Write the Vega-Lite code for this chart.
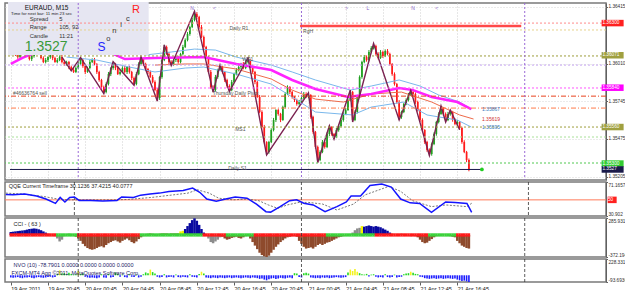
{
"$schema":"https://vega.github.io/schema/vega-lite/v6.json",
"padding":{"left":2,"top":1,"right":0,"bottom":0},
"background":"white",
"spacing":2,
"bounds":"flush",
"resolve":{"scale":{"x":"independent","y":"independent"}},
"config":{"view":{"stroke":"#7a7a7a","strokeWidth":1.5},"font":"Liberation Sans","axis":{"labelFont":"Liberation Sans","labelFontSize":4.7,"labelColor":"#303030","tickColor":"#606060","domainColor":"#606060"},"text":{"font":"Liberation Sans"}},
"datasets":{
"bars":[
{"i":0,"o":1.3608,"h":1.36106,"l":1.36072,"c":1.36094,"k":50,"cc":"blue","z":"zr","n":-30},
{"i":1,"o":1.36094,"h":1.36123,"l":1.36084,"c":1.36108,"k":55,"cc":"blue","z":"zr","n":-35},
{"i":2,"o":1.36108,"h":1.36114,"l":1.36066,"c":1.3608,"k":60,"cc":"blue","z":"zr","n":-30},
{"i":3,"o":1.3608,"h":1.36089,"l":1.36046,"c":1.36058,"k":65,"cc":"blue","z":"zr","n":-25},
{"i":4,"o":1.36058,"h":1.36102,"l":1.36043,"c":1.36094,"k":70,"cc":"blue","z":"zr","n":-35},
{"i":5,"o":1.36094,"h":1.36132,"l":1.36088,"c":1.36122,"k":75,"cc":"blue","z":"zr","n":-40},
{"i":6,"o":1.36122,"h":1.36136,"l":1.36092,"c":1.36101,"k":80,"cc":"blue","z":"zr","n":-30},
{"i":7,"o":1.36101,"h":1.36113,"l":1.36065,"c":1.36073,"k":90,"cc":"blue","z":"zr","n":-30},
{"i":8,"o":1.36073,"h":1.36088,"l":1.36034,"c":1.36044,"k":100,"cc":"blue","z":"zr","n":-25},
{"i":9,"o":1.36044,"h":1.36072,"l":1.3603,"c":1.36066,"k":105,"cc":"blue","z":"zr","n":-35},
{"i":10,"o":1.36066,"h":1.36103,"l":1.36054,"c":1.36094,"k":110,"cc":"blue","z":"zr","n":-40},
{"i":11,"o":1.36094,"h":1.36123,"l":1.36079,"c":1.36115,"k":105,"cc":"blue","z":"zr","n":-30},
{"i":12,"o":1.36115,"h":1.36125,"l":1.36074,"c":1.3608,"k":95,"cc":"blue","z":"zr","n":-25},
{"i":13,"o":1.3608,"h":1.36094,"l":1.36042,"c":1.36051,"k":80,"cc":"blue","z":"zr","n":-30},
{"i":14,"o":1.36051,"h":1.36063,"l":1.36015,"c":1.36023,"k":60,"cc":"blue","z":"zr","n":-35},
{"i":15,"o":1.36023,"h":1.36052,"l":1.36013,"c":1.36037,"k":40,"cc":"blue","z":"zr","n":-30},
{"i":16,"o":1.36037,"h":1.36064,"l":1.36023,"c":1.36058,"k":20,"cc":"brown","z":"zr","n":-25},
{"i":17,"o":1.36058,"h":1.36089,"l":1.36046,"c":1.3608,"k":10,"cc":"brown","z":"zr","n":-20},
{"i":18,"o":1.3608,"h":1.36088,"l":1.36036,"c":1.36051,"k":-10,"cc":"brown","z":"zr","n":-30},
{"i":19,"o":1.36051,"h":1.36061,"l":1.36017,"c":1.36023,"k":-20,"cc":"brown","z":"zr","n":-25},
{"i":20,"o":1.36023,"h":1.36051,"l":1.36014,"c":1.36037,"k":-60,"cc":"gray","z":"zg","n":20},
{"i":21,"o":1.36037,"h":1.3607,"l":1.36029,"c":1.36058,"k":-110,"cc":"gray","z":"zg","n":70},
{"i":22,"o":1.36058,"h":1.36073,"l":1.36013,"c":1.36023,"k":-80,"cc":"gray","z":"zg","n":25},
{"i":23,"o":1.36023,"h":1.36029,"l":1.35995,"c":1.36009,"k":-20,"cc":"brown","z":"zg","n":30},
{"i":24,"o":1.36009,"h":1.36032,"l":1.35997,"c":1.36023,"k":10,"cc":"brown","z":"zg","n":15},
{"i":25,"o":1.36023,"h":1.36031,"l":1.35972,"c":1.35987,"k":20,"cc":"brown","z":"zg","n":35},
{"i":26,"o":1.35987,"h":1.35997,"l":1.3596,"c":1.35966,"k":15,"cc":"brown","z":"zg","n":20},
{"i":27,"o":1.35966,"h":1.3598,"l":1.35945,"c":1.35952,"k":-10,"cc":"brown","z":"zg","n":10},
{"i":28,"o":1.35952,"h":1.35992,"l":1.35944,"c":1.3598,"k":-30,"cc":"brown","z":"zg","n":15},
{"i":29,"o":1.3598,"h":1.36024,"l":1.3597,"c":1.36009,"k":-60,"cc":"brown","z":"zr","n":60},
{"i":30,"o":1.36009,"h":1.36055,"l":1.36003,"c":1.36037,"k":-100,"cc":"brown","z":"zr","n":20},
{"i":31,"o":1.36037,"h":1.36046,"l":1.35982,"c":1.35994,"k":-150,"cc":"brown","z":"zr","n":25},
{"i":32,"o":1.35994,"h":1.36002,"l":1.35937,"c":1.35952,"k":-190,"cc":"brown","z":"zr","n":-20},
{"i":33,"o":1.35952,"h":1.3599,"l":1.35946,"c":1.3598,"k":-220,"cc":"brown","z":"zr","n":-30},
{"i":34,"o":1.3598,"h":1.36037,"l":1.35971,"c":1.36023,"k":-240,"cc":"brown","z":"zr","n":-35},
{"i":35,"o":1.36023,"h":1.36049,"l":1.36015,"c":1.36037,"k":-250,"cc":"brown","z":"zr","n":-30},
{"i":36,"o":1.36037,"h":1.36052,"l":1.35999,"c":1.36009,"k":-240,"cc":"brown","z":"zr","n":-35},
{"i":37,"o":1.36009,"h":1.36015,"l":1.35938,"c":1.35952,"k":-220,"cc":"brown","z":"zr","n":-40},
{"i":38,"o":1.35952,"h":1.35961,"l":1.35883,"c":1.35895,"k":-200,"cc":"brown","z":"zr","n":-30},
{"i":39,"o":1.35895,"h":1.35903,"l":1.3583,"c":1.35845,"k":-190,"cc":"brown","z":"zr","n":15},
{"i":40,"o":1.35845,"h":1.35855,"l":1.35798,"c":1.35809,"k":-210,"cc":"brown","z":"zr","n":-30},
{"i":41,"o":1.35809,"h":1.35878,"l":1.358,"c":1.35866,"k":-170,"cc":"brown","z":"zr","n":-35},
{"i":42,"o":1.35866,"h":1.35952,"l":1.35856,"c":1.35937,"k":-140,"cc":"brown","z":"zr","n":20},
{"i":43,"o":1.35937,"h":1.35986,"l":1.35923,"c":1.3598,"k":-120,"cc":"brown","z":"zr","n":-30},
{"i":44,"o":1.3598,"h":1.36025,"l":1.35968,"c":1.36009,"k":-100,"cc":"brown","z":"zr","n":-25},
{"i":45,"o":1.36009,"h":1.36017,"l":1.35965,"c":1.3598,"k":-90,"cc":"brown","z":"zr","n":40},
{"i":46,"o":1.3598,"h":1.3599,"l":1.35931,"c":1.35937,"k":-110,"cc":"brown","z":"zr","n":20},
{"i":47,"o":1.35937,"h":1.35966,"l":1.35928,"c":1.35952,"k":-130,"cc":"brown","z":"zr","n":-20},
{"i":48,"o":1.35952,"h":1.35992,"l":1.35944,"c":1.3598,"k":-100,"cc":"brown","z":"zr","n":10},
{"i":49,"o":1.3598,"h":1.35995,"l":1.35942,"c":1.35952,"k":-80,"cc":"brown","z":"zr","n":-25},
{"i":50,"o":1.35952,"h":1.35993,"l":1.35938,"c":1.35987,"k":-60,"cc":"brown","z":"zr","n":-30},
{"i":51,"o":1.35987,"h":1.35996,"l":1.3594,"c":1.35952,"k":-90,"cc":"brown","z":"zr","n":15},
{"i":52,"o":1.35952,"h":1.3596,"l":1.35894,"c":1.35909,"k":-120,"cc":"brown","z":"zr","n":-20},
{"i":53,"o":1.35909,"h":1.35919,"l":1.35858,"c":1.35866,"k":-140,"cc":"brown","z":"zr","n":-25},
{"i":54,"o":1.35866,"h":1.35951,"l":1.35857,"c":1.35937,"k":-110,"cc":"brown","z":"zr","n":10},
{"i":55,"o":1.35937,"h":1.36021,"l":1.35929,"c":1.36009,"k":-70,"cc":"brown","z":"zr","n":-30},
{"i":56,"o":1.36009,"h":1.36059,"l":1.35999,"c":1.36044,"k":-40,"cc":"brown","z":"zg","n":-20},
{"i":57,"o":1.36044,"h":1.3605,"l":1.35995,"c":1.36009,"k":-20,"cc":"brown","z":"zg","n":15},
{"i":58,"o":1.36009,"h":1.36018,"l":1.35961,"c":1.35973,"k":10,"cc":"brown","z":"zg","n":40},
{"i":59,"o":1.35973,"h":1.35981,"l":1.35937,"c":1.35952,"k":20,"cc":"brown","z":"zg","n":30},
{"i":60,"o":1.35952,"h":1.35962,"l":1.3591,"c":1.35916,"k":25,"cc":"brown","z":"zg","n":80},
{"i":61,"o":1.35916,"h":1.3593,"l":1.35871,"c":1.3588,"k":20,"cc":"brown","z":"zg","n":45},
{"i":62,"o":1.3588,"h":1.35892,"l":1.35815,"c":1.35823,"k":10,"cc":"brown","z":"zg","n":25},
{"i":63,"o":1.35823,"h":1.35838,"l":1.35745,"c":1.35767,"k":-10,"cc":"brown","z":"zg","n":-20},
{"i":64,"o":1.35767,"h":1.35922,"l":1.35753,"c":1.35916,"k":20,"cc":"brown","z":"zg","n":-30},
{"i":65,"o":1.35916,"h":1.36046,"l":1.35904,"c":1.36037,"k":25,"cc":"brown","z":"zg","n":-25},
{"i":66,"o":1.36037,"h":1.36145,"l":1.36029,"c":1.3613,"k":25,"cc":"brown","z":"zg","n":15},
{"i":67,"o":1.3613,"h":1.3614,"l":1.36074,"c":1.3608,"k":25,"cc":"brown","z":"zg","n":-30},
{"i":68,"o":1.3608,"h":1.36095,"l":1.36009,"c":1.36023,"k":20,"cc":"brown","z":"zg","n":-25},
{"i":69,"o":1.36023,"h":1.36035,"l":1.35997,"c":1.36009,"k":25,"cc":"brown","z":"zg","n":-20},
{"i":70,"o":1.36009,"h":1.36045,"l":1.35994,"c":1.36037,"k":25,"cc":"brown","z":"zg","n":-30},
{"i":71,"o":1.36037,"h":1.36064,"l":1.36023,"c":1.36058,"k":25,"cc":"brown","z":"zg","n":10},
{"i":72,"o":1.36058,"h":1.36067,"l":1.36011,"c":1.36023,"k":25,"cc":"brown","z":"zg","n":-25},
{"i":73,"o":1.36023,"h":1.36088,"l":1.36013,"c":1.3608,"k":60,"cc":"yellow","z":"zg","n":-30},
{"i":74,"o":1.3608,"h":1.36145,"l":1.3607,"c":1.3613,"k":70,"cc":"yellow","z":"zg","n":-20},
{"i":75,"o":1.3613,"h":1.36191,"l":1.36122,"c":1.36179,"k":100,"cc":"blue","z":"zg","n":-25},
{"i":76,"o":1.36179,"h":1.36236,"l":1.3617,"c":1.36222,"k":150,"cc":"blue","z":"zg","n":-30},
{"i":77,"o":1.36222,"h":1.36281,"l":1.3621,"c":1.36272,"k":200,"cc":"blue","z":"zg","n":15},
{"i":78,"o":1.36272,"h":1.36337,"l":1.36264,"c":1.36322,"k":250,"cc":"blue","z":"zg","n":-20},
{"i":79,"o":1.36322,"h":1.36385,"l":1.36312,"c":1.36365,"k":280,"cc":"blue","z":"zg","n":-25},
{"i":80,"o":1.36365,"h":1.36378,"l":1.36329,"c":1.36343,"k":240,"cc":"blue","z":"zg","n":-30},
{"i":81,"o":1.36343,"h":1.36352,"l":1.3626,"c":1.36272,"k":170,"cc":"blue","z":"zg","n":20},
{"i":82,"o":1.36272,"h":1.36287,"l":1.36193,"c":1.36201,"k":100,"cc":"blue","z":"zg","n":50},
{"i":83,"o":1.36201,"h":1.36211,"l":1.36118,"c":1.3613,"k":40,"cc":"blue","z":"zr","n":25},
{"i":84,"o":1.3613,"h":1.36138,"l":1.36043,"c":1.36058,"k":0,"cc":"brown","z":"zr","n":-30},
{"i":85,"o":1.36058,"h":1.36064,"l":1.35942,"c":1.35952,"k":-60,"cc":"gray","z":"zr","n":-35},
{"i":86,"o":1.35952,"h":1.35966,"l":1.35833,"c":1.35845,"k":-120,"cc":"gray","z":"zr","n":-40},
{"i":87,"o":1.35845,"h":1.35857,"l":1.35808,"c":1.35823,"k":-140,"cc":"gray","z":"zr","n":-30},
{"i":88,"o":1.35823,"h":1.35931,"l":1.35813,"c":1.35916,"k":-110,"cc":"gray","z":"zr","n":-35},
{"i":89,"o":1.35916,"h":1.35975,"l":1.35904,"c":1.35966,"k":-80,"cc":"gray","z":"zr","n":-40},
{"i":90,"o":1.35966,"h":1.36002,"l":1.35958,"c":1.35987,"k":-40,"cc":"gray","z":"zr","n":-30},
{"i":91,"o":1.35987,"h":1.35996,"l":1.3594,"c":1.35952,"k":-30,"cc":"brown","z":"zr","n":-35},
{"i":92,"o":1.35952,"h":1.3596,"l":1.35881,"c":1.35895,"k":-60,"cc":"brown","z":"zr","n":-40},
{"i":93,"o":1.35895,"h":1.35904,"l":1.3584,"c":1.35852,"k":-80,"cc":"brown","z":"zg","n":-35},
{"i":94,"o":1.35852,"h":1.35864,"l":1.35812,"c":1.35823,"k":-70,"cc":"brown","z":"zg","n":-30},
{"i":95,"o":1.35823,"h":1.35895,"l":1.35815,"c":1.3588,"k":-50,"cc":"brown","z":"zg","n":-40},
{"i":96,"o":1.3588,"h":1.35946,"l":1.35872,"c":1.35937,"k":-40,"cc":"brown","z":"zg","n":-35},
{"i":97,"o":1.35937,"h":1.3598,"l":1.35928,"c":1.35966,"k":-30,"cc":"brown","z":"zg","n":-30},
{"i":98,"o":1.35966,"h":1.35999,"l":1.35956,"c":1.35987,"k":-50,"cc":"brown","z":"zg","n":-35},
{"i":99,"o":1.35987,"h":1.36017,"l":1.35972,"c":1.36009,"k":-60,"cc":"brown","z":"zg","n":-40},
{"i":100,"o":1.36009,"h":1.36023,"l":1.35971,"c":1.3598,"k":-40,"cc":"brown","z":"zg","n":-35},
{"i":101,"o":1.3598,"h":1.36035,"l":1.35972,"c":1.36023,"k":-20,"cc":"brown","z":"zg","n":-30},
{"i":102,"o":1.36023,"h":1.36052,"l":1.36013,"c":1.36037,"k":-10,"cc":"brown","z":"zg","n":-35},
{"i":103,"o":1.36037,"h":1.36043,"l":1.3598,"c":1.35994,"k":-60,"cc":"brown","z":"zg","n":-40},
{"i":104,"o":1.35994,"h":1.36003,"l":1.3594,"c":1.35952,"k":-120,"cc":"brown","z":"zg","n":-30},
{"i":105,"o":1.35952,"h":1.3596,"l":1.35865,"c":1.3588,"k":-180,"cc":"brown","z":"zr","n":-35},
{"i":106,"o":1.3588,"h":1.3589,"l":1.35768,"c":1.35774,"k":-240,"cc":"brown","z":"zr","n":-40},
{"i":107,"o":1.35774,"h":1.35788,"l":1.35658,"c":1.35667,"k":-300,"cc":"brown","z":"zr","n":-50},
{"i":108,"o":1.35667,"h":1.35679,"l":1.35552,"c":1.3556,"k":-340,"cc":"brown","z":"zr","n":-45},
{"i":109,"o":1.3556,"h":1.35575,"l":1.35443,"c":1.35453,"k":-360,"cc":"brown","z":"zr","n":-60},
{"i":110,"o":1.35453,"h":1.35459,"l":1.35361,"c":1.35382,"k":-372,"cc":"brown","z":"zr","n":-70},
{"i":111,"o":1.35382,"h":1.35462,"l":1.3537,"c":1.35453,"k":-350,"cc":"brown","z":"zr","n":-55},
{"i":112,"o":1.35453,"h":1.35551,"l":1.35445,"c":1.35539,"k":-300,"cc":"brown","z":"zr","n":-45},
{"i":113,"o":1.35539,"h":1.35625,"l":1.35529,"c":1.3561,"k":-250,"cc":"brown","z":"zr","n":-40},
{"i":114,"o":1.3561,"h":1.35687,"l":1.35596,"c":1.35681,"k":-200,"cc":"brown","z":"zr","n":-50},
{"i":115,"o":1.35681,"h":1.3569,"l":1.35641,"c":1.35653,"k":-160,"cc":"brown","z":"zr","n":-45},
{"i":116,"o":1.35653,"h":1.35661,"l":1.35595,"c":1.3561,"k":-120,"cc":"brown","z":"zr","n":-35},
{"i":117,"o":1.3561,"h":1.35712,"l":1.35604,"c":1.35702,"k":-90,"cc":"brown","z":"zr","n":-40},
{"i":118,"o":1.35702,"h":1.35809,"l":1.35693,"c":1.35795,"k":-60,"cc":"brown","z":"zr","n":-45},
{"i":119,"o":1.35795,"h":1.35857,"l":1.35787,"c":1.35845,"k":-40,"cc":"brown","z":"zr","n":-35},
{"i":120,"o":1.35845,"h":1.35851,"l":1.35794,"c":1.35809,"k":-30,"cc":"brown","z":"zr","n":-30},
{"i":121,"o":1.35809,"h":1.35818,"l":1.35762,"c":1.35774,"k":-20,"cc":"brown","z":"zr","n":-40},
{"i":122,"o":1.35774,"h":1.3578,"l":1.35738,"c":1.35752,"k":-10,"cc":"brown","z":"zr","n":30},
{"i":123,"o":1.35752,"h":1.35762,"l":1.35712,"c":1.35724,"k":-30,"cc":"brown","z":"zr","n":25},
{"i":124,"o":1.35724,"h":1.35753,"l":1.35714,"c":1.35738,"k":-100,"cc":"brown","z":"zr","n":-25},
{"i":125,"o":1.35738,"h":1.35779,"l":1.35732,"c":1.35767,"k":-150,"cc":"brown","z":"zr","n":-30},
{"i":126,"o":1.35767,"h":1.35809,"l":1.35758,"c":1.35795,"k":-200,"cc":"brown","z":"zr","n":30},
{"i":127,"o":1.35795,"h":1.35807,"l":1.35766,"c":1.35774,"k":-230,"cc":"brown","z":"zr","n":35},
{"i":128,"o":1.35774,"h":1.35803,"l":1.35764,"c":1.35788,"k":-220,"cc":"brown","z":"zr","n":25},
{"i":129,"o":1.35788,"h":1.35794,"l":1.35619,"c":1.35631,"k":-210,"cc":"brown","z":"zr","n":-30},
{"i":130,"o":1.35631,"h":1.3564,"l":1.35512,"c":1.35524,"k":-230,"cc":"brown","z":"zr","n":-35},
{"i":131,"o":1.35524,"h":1.35532,"l":1.35405,"c":1.35418,"k":-200,"cc":"brown","z":"zr","n":-40},
{"i":132,"o":1.35418,"h":1.35428,"l":1.35308,"c":1.35325,"k":-170,"cc":"brown","z":"zr","n":-35},
{"i":133,"o":1.35325,"h":1.35394,"l":1.35317,"c":1.35382,"k":-150,"cc":"brown","z":"zr","n":-40},
{"i":134,"o":1.35382,"h":1.35468,"l":1.35374,"c":1.35453,"k":-170,"cc":"brown","z":"zr","n":-30},
{"i":135,"o":1.35453,"h":1.35463,"l":1.35406,"c":1.35418,"k":-150,"cc":"brown","z":"zr","n":-35},
{"i":136,"o":1.35418,"h":1.35522,"l":1.3541,"c":1.3551,"k":-130,"cc":"brown","z":"zg","n":-30},
{"i":137,"o":1.3551,"h":1.35569,"l":1.35496,"c":1.3556,"k":-120,"cc":"brown","z":"zg","n":-40},
{"i":138,"o":1.3556,"h":1.35566,"l":1.35498,"c":1.3551,"k":-100,"cc":"brown","z":"zg","n":-35},
{"i":139,"o":1.3551,"h":1.35518,"l":1.35475,"c":1.35489,"k":-80,"cc":"brown","z":"zg","n":-30},
{"i":140,"o":1.35489,"h":1.35553,"l":1.35481,"c":1.35539,"k":-60,"cc":"brown","z":"zg","n":-25},
{"i":141,"o":1.35539,"h":1.35579,"l":1.35527,"c":1.35567,"k":-40,"cc":"brown","z":"zg","n":-30},
{"i":142,"o":1.35567,"h":1.35624,"l":1.35559,"c":1.3561,"k":-30,"cc":"brown","z":"zg","n":-35},
{"i":143,"o":1.3561,"h":1.35665,"l":1.35598,"c":1.35653,"k":-20,"cc":"brown","z":"zg","n":-30},
{"i":144,"o":1.35653,"h":1.35696,"l":1.35645,"c":1.35681,"k":-10,"cc":"brown","z":"zg","n":-25},
{"i":145,"o":1.35681,"h":1.35762,"l":1.35675,"c":1.35752,"k":0,"cc":"brown","z":"zg","n":40},
{"i":146,"o":1.35752,"h":1.35823,"l":1.35743,"c":1.35809,"k":10,"cc":"brown","z":"zg","n":80},
{"i":147,"o":1.35809,"h":1.35817,"l":1.35596,"c":1.3561,"k":40,"cc":"gray","z":"zg","n":60},
{"i":148,"o":1.3561,"h":1.35679,"l":1.35602,"c":1.35667,"k":80,"cc":"gray","z":"zg","n":90},
{"i":149,"o":1.35667,"h":1.35789,"l":1.35657,"c":1.35774,"k":110,"cc":"gray","z":"zg","n":50},
{"i":150,"o":1.35774,"h":1.35928,"l":1.35766,"c":1.35916,"k":120,"cc":"gray","z":"zg","n":30},
{"i":151,"o":1.35916,"h":1.36032,"l":1.35904,"c":1.36023,"k":150,"cc":"yellow","z":"zg","n":15},
{"i":152,"o":1.36023,"h":1.36073,"l":1.36014,"c":1.36058,"k":140,"cc":"blue","z":"zg","n":10},
{"i":153,"o":1.36058,"h":1.3607,"l":1.36025,"c":1.36037,"k":150,"cc":"blue","z":"zg","n":20},
{"i":154,"o":1.36037,"h":1.36108,"l":1.36029,"c":1.36094,"k":160,"cc":"blue","z":"zg","n":-15},
{"i":155,"o":1.36094,"h":1.36136,"l":1.36085,"c":1.36122,"k":150,"cc":"blue","z":"zg","n":10},
{"i":156,"o":1.36122,"h":1.36155,"l":1.36112,"c":1.36137,"k":140,"cc":"blue","z":"zg","n":15},
{"i":157,"o":1.36137,"h":1.36146,"l":1.36068,"c":1.3608,"k":150,"cc":"blue","z":"zr","n":-20},
{"i":158,"o":1.3608,"h":1.36092,"l":1.36041,"c":1.36051,"k":140,"cc":"blue","z":"zr","n":-30},
{"i":159,"o":1.36051,"h":1.36108,"l":1.36045,"c":1.36094,"k":130,"cc":"blue","z":"zr","n":-25},
{"i":160,"o":1.36094,"h":1.36104,"l":1.36052,"c":1.36066,"k":110,"cc":"blue","z":"zr","n":-30},
{"i":161,"o":1.36066,"h":1.36113,"l":1.36058,"c":1.36101,"k":90,"cc":"blue","z":"zr","n":15},
{"i":162,"o":1.36101,"h":1.36115,"l":1.3607,"c":1.3608,"k":70,"cc":"blue","z":"zr","n":-25},
{"i":163,"o":1.3608,"h":1.36089,"l":1.35997,"c":1.36009,"k":40,"cc":"blue","z":"zr","n":-30},
{"i":164,"o":1.36009,"h":1.36015,"l":1.35925,"c":1.35937,"k":20,"cc":"brown","z":"zr","n":-25},
{"i":165,"o":1.35937,"h":1.35949,"l":1.35855,"c":1.35866,"k":0,"cc":"brown","z":"zr","n":10},
{"i":166,"o":1.35866,"h":1.35874,"l":1.35726,"c":1.35738,"k":-10,"cc":"brown","z":"zr","n":-30},
{"i":167,"o":1.35738,"h":1.35752,"l":1.3561,"c":1.35631,"k":10,"cc":"brown","z":"zr","n":-25},
{"i":168,"o":1.35631,"h":1.35677,"l":1.35619,"c":1.35667,"k":20,"cc":"brown","z":"zr","n":-20},
{"i":169,"o":1.35667,"h":1.35733,"l":1.35659,"c":1.35724,"k":10,"cc":"brown","z":"zr","n":15},
{"i":170,"o":1.35724,"h":1.35764,"l":1.35716,"c":1.35752,"k":0,"cc":"brown","z":"zr","n":25},
{"i":171,"o":1.35752,"h":1.35803,"l":1.35742,"c":1.35788,"k":-10,"cc":"brown","z":"zr","n":30},
{"i":172,"o":1.35788,"h":1.35823,"l":1.3578,"c":1.35809,"k":-20,"cc":"brown","z":"zr","n":50},
{"i":173,"o":1.35809,"h":1.35818,"l":1.35783,"c":1.35795,"k":-10,"cc":"brown","z":"zr","n":35},
{"i":174,"o":1.35795,"h":1.35806,"l":1.35725,"c":1.35738,"k":-20,"cc":"brown","z":"zr","n":20},
{"i":175,"o":1.35738,"h":1.35748,"l":1.3567,"c":1.35681,"k":-40,"cc":"brown","z":"zr","n":15},
{"i":176,"o":1.35681,"h":1.3569,"l":1.35598,"c":1.3561,"k":-80,"cc":"brown","z":"zr","n":-20},
{"i":177,"o":1.3561,"h":1.35622,"l":1.3553,"c":1.35539,"k":-120,"cc":"brown","z":"zr","n":-25},
{"i":178,"o":1.35539,"h":1.35545,"l":1.3544,"c":1.35453,"k":-140,"cc":"brown","z":"zr","n":-40},
{"i":179,"o":1.35453,"h":1.35462,"l":1.35384,"c":1.35396,"k":-130,"cc":"brown","z":"zr","n":-45},
{"i":180,"o":1.35396,"h":1.35408,"l":1.35358,"c":1.35368,"k":-100,"cc":"brown","z":"zg","n":-50},
{"i":181,"o":1.35368,"h":1.35449,"l":1.35356,"c":1.35439,"k":-70,"cc":"brown","z":"zg","n":-45},
{"i":182,"o":1.35439,"h":1.35522,"l":1.35431,"c":1.3551,"k":-40,"cc":"brown","z":"zg","n":-40},
{"i":183,"o":1.3551,"h":1.35604,"l":1.35498,"c":1.35596,"k":-20,"cc":"brown","z":"zg","n":-50},
{"i":184,"o":1.35596,"h":1.35665,"l":1.35586,"c":1.35653,"k":-10,"cc":"brown","z":"zg","n":-45},
{"i":185,"o":1.35653,"h":1.3571,"l":1.35647,"c":1.35695,"k":0,"cc":"brown","z":"zg","n":-40},
{"i":186,"o":1.35695,"h":1.35703,"l":1.35641,"c":1.35653,"k":10,"cc":"brown","z":"zg","n":-50},
{"i":187,"o":1.35653,"h":1.35664,"l":1.35596,"c":1.3561,"k":0,"cc":"brown","z":"zg","n":-45},
{"i":188,"o":1.3561,"h":1.35668,"l":1.35602,"c":1.35653,"k":-10,"cc":"brown","z":"zg","n":-40},
{"i":189,"o":1.35653,"h":1.35681,"l":1.35641,"c":1.35667,"k":-20,"cc":"brown","z":"zg","n":-45},
{"i":190,"o":1.35667,"h":1.35675,"l":1.35598,"c":1.3561,"k":-30,"cc":"brown","z":"zg","n":-50},
{"i":191,"o":1.3561,"h":1.35622,"l":1.35573,"c":1.35581,"k":-40,"cc":"brown","z":"zg","n":-45},
{"i":192,"o":1.35581,"h":1.35611,"l":1.3557,"c":1.35596,"k":-100,"cc":"brown","z":"zr","n":-60},
{"i":193,"o":1.35596,"h":1.35602,"l":1.35541,"c":1.35553,"k":-140,"cc":"brown","z":"zr","n":-70},
{"i":194,"o":1.35553,"h":1.35562,"l":1.35441,"c":1.35453,"k":-180,"cc":"brown","z":"zr","n":-80},
{"i":195,"o":1.35453,"h":1.35466,"l":1.35374,"c":1.35382,"k":-200,"cc":"brown","z":"zr","n":-75},
{"i":196,"o":1.35382,"h":1.3539,"l":1.3531,"c":1.35325,"k":-220,"cc":"brown","z":"zr","n":-85},
{"i":197,"o":1.35325,"h":1.35336,"l":1.35245,"c":1.35262,"k":-230,"cc":"brown","z":"zr","n":-93}
],
"zz":[{"i":22,"p":1.36058},{"i":26,"p":1.3596},{"i":30,"p":1.36055},{"i":40,"p":1.35798},{"i":44,"p":1.36025},{"i":53,"p":1.35858},{"i":56,"p":1.36059},{"i":63,"p":1.35745},{"i":66,"p":1.36145},{"i":69,"p":1.35997},{"i":79,"p":1.36385},{"i":87,"p":1.35808},{"i":90,"p":1.36002},{"i":94,"p":1.35812},{"i":102,"p":1.36052},{"i":110,"p":1.35361},{"i":128,"p":1.35803},{"i":132,"p":1.35308},{"i":137,"p":1.35569},{"i":139,"p":1.35475},{"i":146,"p":1.35823},{"i":147,"p":1.35596},{"i":156,"p":1.36155},{"i":167,"p":1.3561},{"i":172,"p":1.35823},{"i":180,"p":1.35358},{"i":185,"p":1.3571},{"i":187,"p":1.35596},{"i":189,"p":1.35681},{"i":193,"p":1.35541}],
"mag":[{"i":0,"p":1.36009},{"i":5,"p":1.36052},{"i":9,"p":1.3608},{"i":16,"p":1.36112},{"i":30,"p":1.3613},{"i":40,"p":1.36112},{"i":45,"p":1.36073},{"i":49,"p":1.36044},{"i":62,"p":1.36051},{"i":83,"p":1.36058},{"i":97,"p":1.36009},{"i":112,"p":1.35966},{"i":121,"p":1.35895},{"i":131,"p":1.35831},{"i":145,"p":1.35774},{"i":155,"p":1.35795},{"i":167,"p":1.35838},{"i":173,"p":1.35823},{"i":181,"p":1.35774},{"i":192,"p":1.35738},{"i":198,"p":1.35688}],
"ubl":[{"i":58,"p":1.36073},{"i":69,"p":1.36094},{"i":79,"p":1.36115},{"i":88,"p":1.36108},{"i":97,"p":1.36058},{"i":112,"p":1.36001},{"i":121,"p":1.35952},{"i":131,"p":1.35895},{"i":146,"p":1.35823},{"i":155,"p":1.35852},{"i":167,"p":1.35895},{"i":176,"p":1.35852},{"i":184,"p":1.35788},{"i":193,"p":1.35738},{"i":198,"p":1.35688}],
"lbl":[{"i":24,"p":1.36058},{"i":37,"p":1.36037},{"i":51,"p":1.35987},{"i":62,"p":1.35952},{"i":75,"p":1.3598},{"i":83,"p":1.35987},{"i":97,"p":1.35937},{"i":112,"p":1.35866},{"i":121,"p":1.35774},{"i":131,"p":1.35667},{"i":147,"p":1.35646},{"i":155,"p":1.35702},{"i":169,"p":1.35738},{"i":179,"p":1.35646},{"i":192,"p":1.3561},{"i":198,"p":1.3556}],
"red":[{"i":62,"p":1.36001},{"i":75,"p":1.36009},{"i":83,"p":1.36009},{"i":97,"p":1.35973},{"i":112,"p":1.35902},{"i":121,"p":1.35823},{"i":131,"p":1.35759},{"i":143,"p":1.35738},{"i":155,"p":1.35795},{"i":168,"p":1.35809},{"i":181,"p":1.35738},{"i":193,"p":1.35646},{"i":199,"p":1.35617}],
"levels":[{"name":"R1","p":1.363},{"name":"DR1","p":1.36251},{"name":"W1","p":1.36066},{"name":"W2","p":1.36001},{"name":"Sell","p":1.35838},{"name":"Pivot","p":1.3578},{"name":"W3","p":1.35695},{"name":"W4","p":1.3556},{"name":"MS1","p":1.35489},{"name":"S1","p":1.35304}],
"days":[{"i":29},{"i":125},{"i":221}],
"notes":[{"i":94,"p":1.36265,"t":"Daily R1"},{"i":125.7,"p":1.36244,"t":"RgH"},{"i":86.8,"p":1.35802,"t":"Thursday  Daily Pivot"},{"i":96.5,"p":1.35546,"t":"MS1"},{"i":93.5,"p":1.35268,"t":"Daily S1"},{"i":0.9,"p":1.35802,"t":"#46636764 sell"},{"i":99.5,"p":1.36044,"t":"WR1"}],
"marks":[{"i":77.9,"t":"N"},{"i":87.6,"t":"<"},{"i":144.3,"t":">"},{"i":153.6,"t":"L"},{"i":173,"t":"N"},{"i":183.2,"t":"<"}],
"malab":[{"i":202.6,"p":1.35688,"t":"1.35867","k":"b"},{"i":202.6,"p":1.35617,"t":"1.35619","k":"r"},{"i":202.6,"p":1.3556,"t":"1.35595","k":"b"}],
"info":[{"i":6,"p":1.36407,"t":"EURAUD, M15","k":"title"},{"i":0.1,"p":1.36365,"t":"Time for next bar: 11 min 23 sec","k":"tiny"},{"i":8.1,"p":1.36329,"t":"Spread","k":"info"},{"i":20.8,"p":1.36329,"t":"5","k":"info"},{"i":8.1,"p":1.36272,"t":"Range","k":"info"},{"i":20.8,"p":1.36272,"t":"105, 92","k":"info"},{"i":8.1,"p":1.36208,"t":"Candle","k":"info"},{"i":20.8,"p":1.36208,"t":"11:21","k":"info"},{"i":6,"p":1.3613,"t":"1.3527","k":"big"},{"i":39,"p":1.3613,"t":"S","k":"S"},{"i":41.9,"p":1.36187,"t":"o","k":"let"},{"i":44.5,"p":1.36244,"t":"n","k":"let"},{"i":47.4,"p":1.36286,"t":"i","k":"let"},{"i":50.4,"p":1.36329,"t":"c","k":"let"},{"i":53.8,"p":1.36393,"t":"R","k":"R"}],
"axbox":[{"p":1.363,"t":"1.36300","k":"red"},{"p":1.36071,"t":"1.36071","k":"olive"},{"p":1.3584,"t":"1.35840","k":"mag"},{"p":1.3556,"t":"1.35560","k":"olive"},{"p":1.353,"t":"1.35300","k":"green"},{"p":1.35258,"t":"1.3527","k":"navy"}],
"qqe":[{"i":0,"v":56.4},{"i":3,"v":56},{"i":8,"v":57},{"i":13,"v":54.5},{"i":17,"v":51},{"i":21,"v":45.8},{"i":23,"v":53},{"i":25,"v":47.5},{"i":27,"v":52.8},{"i":29,"v":53.5},{"i":31,"v":49.3},{"i":36,"v":49.3},{"i":41,"v":48.6},{"i":47,"v":49.3},{"i":49,"v":53.5},{"i":54,"v":52.8},{"i":57,"v":55.6},{"i":61,"v":57},{"i":65,"v":58},{"i":69,"v":59.9},{"i":75,"v":61},{"i":79,"v":64},{"i":82,"v":59},{"i":85,"v":51},{"i":89,"v":48.5},{"i":93,"v":51},{"i":97,"v":53.5},{"i":102,"v":52},{"i":106,"v":45},{"i":110,"v":36},{"i":112,"v":35.5},{"i":116,"v":42},{"i":120,"v":49},{"i":123,"v":50},{"i":126,"v":46},{"i":130,"v":44},{"i":135,"v":36},{"i":140,"v":42},{"i":144,"v":47.5},{"i":146,"v":54.6},{"i":150,"v":54.6},{"i":154,"v":67},{"i":159,"v":68.7},{"i":163,"v":65.2},{"i":167,"v":51},{"i":171,"v":46.5},{"i":175,"v":45.8},{"i":180,"v":35.2},{"i":186,"v":47.5},{"i":190,"v":46.8},{"i":195,"v":45.8},{"i":197,"v":35.2}],
"qqes":[{"i":0,"v":58},{"i":7,"v":57},{"i":16,"v":54},{"i":22,"v":51},{"i":26,"v":50},{"i":33,"v":50},{"i":45,"v":50},{"i":52,"v":50.5},{"i":62,"v":53},{"i":71,"v":56},{"i":77,"v":58},{"i":81,"v":62},{"i":86,"v":58},{"i":90,"v":52},{"i":96,"v":50},{"i":102,"v":51},{"i":107,"v":49},{"i":111,"v":44},{"i":115,"v":40},{"i":119,"v":44},{"i":124,"v":47},{"i":128,"v":47},{"i":134,"v":45},{"i":140,"v":38},{"i":147,"v":45},{"i":152,"v":56},{"i":162,"v":66},{"i":167,"v":60},{"i":172,"v":49},{"i":180,"v":42},{"i":186,"v":44},{"i":195,"v":42},{"i":197,"v":46}]
},
"vconcat":[
{"width":601,"height":177,
 "resolve":{"scale":{"color":"independent","strokeDash":"independent"}},
 "layer":[
  {"data":{"name":"bars"},"mark":{"type":"rule","strokeWidth":1},
   "encoding":{"x":{"field":"i","type":"quantitative","scale":{"domain":[-0.34,253.8],"nice":false,"zero":false},"axis":{"values":[0,16,32,48,64,80,96,112,128,144,160,176,192],"labels":false,"ticks":false,"domain":false,"grid":true,"gridColor":"#cfcfcf","gridDash":[1,2],"title":null}},
    "y":{"field":"l","type":"quantitative","scale":{"domain":[1.35183,1.36443],"nice":false,"zero":false},"axis":{"orient":"right","values":[1.35205,1.3534,1.35475,1.3561,1.35745,1.35875,1.3601,1.36145,1.36415],"format":".5f","tickSize":1.5,"labelPadding":0.5,"grid":true,"gridColor":"#d6d6d6","gridDash":[1,2],"title":null}},
    "y2":{"field":"h"},
    "color":{"condition":{"test":"datum.c >= datum.o","value":"#1f9f1f"},"value":"#ff1a1a"}}},
  {"data":{"name":"bars"},"mark":{"type":"bar","size":1.7},
   "encoding":{"x":{"field":"i","type":"quantitative"},"y":{"field":"o","type":"quantitative"},"y2":{"field":"c"},
    "color":{"condition":{"test":"datum.c >= datum.o","value":"#1f9f1f"},"value":"#ff1a1a"}}},
  {"data":{"name":"lbl"},"mark":{"type":"line","color":"#7ab8ec","strokeWidth":1},"encoding":{"x":{"field":"i","type":"quantitative"},"y":{"field":"p","type":"quantitative"}}},
  {"data":{"name":"red"},"mark":{"type":"line","color":"#ee6a4a","strokeWidth":1},"encoding":{"x":{"field":"i","type":"quantitative"},"y":{"field":"p","type":"quantitative"}}},
  {"data":{"name":"ubl"},"mark":{"type":"line","color":"#7ab8ec","strokeWidth":1},"encoding":{"x":{"field":"i","type":"quantitative"},"y":{"field":"p","type":"quantitative"}}},
  {"data":{"name":"mag"},"mark":{"type":"line","color":"#ff22ff","strokeWidth":2.5},"encoding":{"x":{"field":"i","type":"quantitative"},"y":{"field":"p","type":"quantitative"}}},
  {"data":{"name":"zz"},"mark":{"type":"line","color":"#7a2250","strokeWidth":1.4},"encoding":{"x":{"field":"i","type":"quantitative"},"y":{"field":"p","type":"quantitative"}}},
  {"data":{"values":[{"a":-1.18,"b":59.3,"p0":1.36073,"p1":1.3645}]},"mark":{"type":"rect","color":"#e6e6f2"},"encoding":{"x":{"field":"a","type":"quantitative"},"x2":{"field":"b"},"y":{"field":"p0","type":"quantitative"},"y2":{"field":"p1"}}},
  {"data":{"name":"levels"},"mark":{"type":"rule","strokeWidth":1},
   "encoding":{"y":{"field":"p","type":"quantitative"},
    "color":{"field":"name","type":"nominal","legend":null,"scale":{"domain":["R1","DR1","W1","W2","Sell","Pivot","W3","W4","MS1","S1"],"range":["#ff8a8a","#e6d28c","#9d9d3a","#c6a6f2","#ff55ff","#e8401c","#ff7a4a","#9d9d3a","#a8e098","#50c850"]}},
    "strokeDash":{"field":"name","type":"nominal","legend":null,"scale":{"domain":["R1","DR1","W1","W2","Sell","Pivot","W3","W4","MS1","S1"],"range":[[2,2],[2,2],[2,2],[2,2],[2,2],[5,2,1,2],[5,2,1,2],[2,2],[2,2],[2,2]]}}}},
  {"data":{"values":[{"a":124.4,"b":219.5,"p":1.36279}]},"mark":{"type":"rule","color":"#ff4848","strokeWidth":2.5},"encoding":{"x":{"field":"a","type":"quantitative"},"x2":{"field":"b"},"y":{"field":"p","type":"quantitative"}}},
  {"data":{"name":"days"},"mark":{"type":"rule","color":"#9a6ad6","strokeDash":[2,2],"strokeWidth":1},"encoding":{"x":{"field":"i","type":"quantitative"}}},
  {"data":{"values":[{"a":-0.34,"b":202.6,"p":1.35258}]},"mark":{"type":"rule","color":"#16164a","strokeWidth":1},"encoding":{"x":{"field":"a","type":"quantitative"},"x2":{"field":"b"},"y":{"field":"p","type":"quantitative"}}},
  {"data":{"values":[{"a":202.6,"p":1.35258}]},"mark":{"type":"point","filled":true,"color":"#22cc22","size":14,"opacity":1},"encoding":{"x":{"field":"a","type":"quantitative"},"y":{"field":"p","type":"quantitative"}}},
  {"data":{"name":"notes"},"mark":{"type":"text","fontSize":5,"color":"#555555","align":"left","baseline":"middle"},"encoding":{"x":{"field":"i","type":"quantitative"},"y":{"field":"p","type":"quantitative"},"text":{"field":"t"}}},
  {"data":{"name":"marks"},"mark":{"type":"text","fontSize":5,"color":"#8a62c8","align":"center","baseline":"middle"},"encoding":{"x":{"field":"i","type":"quantitative"},"y":{"datum":1.36407,"type":"quantitative"},"text":{"field":"t"}}},
  {"data":{"name":"malab"},"mark":{"type":"text","fontSize":5,"align":"left","baseline":"middle"},"encoding":{"x":{"field":"i","type":"quantitative"},"y":{"field":"p","type":"quantitative"},"text":{"field":"t"},"color":{"field":"k","type":"nominal","legend":null,"scale":{"domain":["b","r"],"range":["#3a7cc0","#d03030"]}}}},
  {"data":{"name":"info"},"transform":[{"filter":"datum.k=='title'"}],"mark":{"type":"text","fontSize":6.5,"color":"#111111","align":"left","baseline":"middle"},"encoding":{"x":{"field":"i","type":"quantitative"},"y":{"field":"p","type":"quantitative"},"text":{"field":"t"}}},
  {"data":{"name":"info"},"transform":[{"filter":"datum.k=='tiny'"}],"mark":{"type":"text","fontSize":4.3,"color":"#222222","align":"left","baseline":"middle"},"encoding":{"x":{"field":"i","type":"quantitative"},"y":{"field":"p","type":"quantitative"},"text":{"field":"t"}}},
  {"data":{"name":"info"},"transform":[{"filter":"datum.k=='info'"}],"mark":{"type":"text","fontSize":5.8,"color":"#333333","align":"left","baseline":"middle"},"encoding":{"x":{"field":"i","type":"quantitative"},"y":{"field":"p","type":"quantitative"},"text":{"field":"t"}}},
  {"data":{"name":"info"},"transform":[{"filter":"datum.k=='big'"}],"mark":{"type":"text","fontSize":14,"color":"#3a9a3a","align":"left","baseline":"middle"},"encoding":{"x":{"field":"i","type":"quantitative"},"y":{"field":"p","type":"quantitative"},"text":{"field":"t"}}},
  {"data":{"name":"info"},"transform":[{"filter":"datum.k=='S'"}],"mark":{"type":"text","fontSize":12,"color":"#2424ff","align":"center","baseline":"middle"},"encoding":{"x":{"field":"i","type":"quantitative"},"y":{"field":"p","type":"quantitative"},"text":{"field":"t"}}},
  {"data":{"name":"info"},"transform":[{"filter":"datum.k=='let'"}],"mark":{"type":"text","fontSize":7.5,"color":"#333333","align":"center","baseline":"middle"},"encoding":{"x":{"field":"i","type":"quantitative"},"y":{"field":"p","type":"quantitative"},"text":{"field":"t"}}},
  {"data":{"name":"info"},"transform":[{"filter":"datum.k=='R'"}],"mark":{"type":"text","fontSize":11,"color":"#ff2020","align":"center","baseline":"middle"},"encoding":{"x":{"field":"i","type":"quantitative"},"y":{"field":"p","type":"quantitative"},"text":{"field":"t"}}},
  {"data":{"name":"axbox"},"mark":{"type":"tick","orient":"horizontal","size":22,"thickness":6.5,"opacity":1},"encoding":{"x":{"datum":258.8,"type":"quantitative"},"y":{"field":"p","type":"quantitative"},
    "color":{"field":"k","type":"nominal","legend":null,"scale":{"domain":["red","olive","mag","green","navy"],"range":["#ff2020","#a0a040","#ff00ff","#33cc33","#1a1a4a"]}}}},
  {"data":{"name":"axbox"},"mark":{"type":"text","fontSize":4.7,"color":"white","align":"left","baseline":"middle"},"encoding":{"x":{"datum":254.4,"type":"quantitative"},"y":{"field":"p","type":"quantitative"},"text":{"field":"t"}}}
 ]},
{"width":601,"height":34,
 "layer":[
  {"data":{"values":[{"v":50}]},"mark":{"type":"rule","color":"#ff7a5a","strokeWidth":1},
   "encoding":{"y":{"field":"v","type":"quantitative","scale":{"domain":[30.902,71.1657],"nice":false,"zero":false},"axis":{"orient":"right","values":[30.902,71.1657],"labelExpr":"toString(datum.value)","labelFlush":true,"tickSize":1.5,"labelPadding":0.5,"grid":false,"title":null}}}},
  {"data":{"name":"days"},"mark":{"type":"rule","color":"#333333","strokeDash":[3,2],"strokeWidth":0.8},"encoding":{"x":{"field":"i","type":"quantitative","scale":{"domain":[-0.34,253.8],"nice":false,"zero":false},"axis":null}}},
  {"data":{"name":"qqes"},"mark":{"type":"line","color":"#555555","strokeDash":[2,1.5],"strokeWidth":0.8},"encoding":{"x":{"field":"i","type":"quantitative"},"y":{"field":"v","type":"quantitative"}}},
  {"data":{"name":"qqe"},"mark":{"type":"line","color":"#1414ff","strokeWidth":1.5},"encoding":{"x":{"field":"i","type":"quantitative"},"y":{"field":"v","type":"quantitative"}}},
  {"data":{"values":[{"i":1.2,"v":66.5,"t":"QQE Current Timeframe 30.1236 37.4215 40.0777"}]},"mark":{"type":"text","fontSize":5.5,"color":"#222222","align":"left","baseline":"middle"},"encoding":{"x":{"field":"i","type":"quantitative"},"y":{"field":"v","type":"quantitative"},"text":{"field":"t"}}},
  {"data":{"values":[{"v":50,"t":"50"}]},"mark":{"type":"tick","orient":"horizontal","size":9,"thickness":6.5,"color":"#ff2020","opacity":1},"encoding":{"x":{"datum":256.4,"type":"quantitative"},"y":{"field":"v","type":"quantitative"}}},
  {"data":{"values":[{"v":50,"t":"50"}]},"mark":{"type":"text","fontSize":4.7,"color":"white","align":"left","baseline":"middle"},"encoding":{"x":{"datum":254.6,"type":"quantitative"},"y":{"field":"v","type":"quantitative"},"text":{"field":"t"}}}
 ]},
{"width":601,"height":39,
 "resolve":{"scale":{"color":"independent"}},
 "layer":[
  {"data":{"name":"bars"},"mark":{"type":"bar","size":2.5},
   "encoding":{"x":{"field":"i","type":"quantitative","scale":{"domain":[-0.34,253.8],"nice":false,"zero":false},"axis":null},
    "y":{"field":"k","type":"quantitative","scale":{"domain":[-372.194,285.931],"nice":false,"zero":false},"axis":{"orient":"right","values":[-372.194,-200,-100,0,100,285.931],"labelExpr":"datum.value==0?'0.00':toString(datum.value)","labelFlush":true,"labelOverlap":false,"tickSize":1.5,"labelPadding":0.5,"grid":true,"gridColor":"#9a9a9a","gridDash":[2,2],"title":null}},
    "y2":{"datum":0},
    "color":{"field":"cc","type":"nominal","legend":null,"scale":{"domain":["blue","brown","gray","yellow"],"range":["#0a0aa0","#8e4a2c","#8c8c8c","#f2f200"]}}}},
  {"data":{"name":"bars"},"mark":{"type":"bar","size":2.5},
   "encoding":{"x":{"field":"i","type":"quantitative"},"y":{"datum":-28,"type":"quantitative"},"y2":{"datum":28},
    "color":{"field":"z","type":"nominal","legend":null,"scale":{"domain":["zr","zg"],"range":["#ff1a1a","#3ad23a"]}}}},
  {"data":{"name":"days"},"mark":{"type":"rule","color":"#333333","strokeDash":[3,2],"strokeWidth":0.8},"encoding":{"x":{"field":"i","type":"quantitative"}}},
  {"data":{"values":[{"i":1.2,"v":190,"t":"CCI - ( 63 )"}]},"mark":{"type":"text","fontSize":5.5,"color":"#222222","align":"left","baseline":"middle"},"encoding":{"x":{"field":"i","type":"quantitative"},"y":{"field":"v","type":"quantitative"},"text":{"field":"t"}}}
 ]},
{"width":601,"height":23,
 "layer":[
  {"data":{"name":"bars"},"mark":{"type":"bar","size":1.6},
   "encoding":{"x":{"field":"i","type":"quantitative","scale":{"domain":[-0.34,253.8],"nice":false,"zero":false},
     "axis":{"orient":"bottom","values":[0,16,32,48,64,80,96,112,128,144,160,176,192],"labelExpr":"['19 Apr 2011','19 Apr 20:45','20 Apr 00:45','20 Apr 04:45','20 Apr 08:45','20 Apr 12:45','20 Apr 16:45','20 Apr 20:45','21 Apr 00:45','21 Apr 04:45','21 Apr 08:45','21 Apr 12:45','21 Apr 16:45'][datum.value/16]","labelAlign":"left","labelFlush":false,"labelOverlap":false,"labelPadding":1,"tickSize":3,"domain":false,"grid":false,"title":null,"labelColor":"#111111","labelFontSize":5.5}},
    "y":{"field":"n","type":"quantitative","scale":{"domain":[-93.6936,228.331],"nice":false,"zero":false},"axis":{"orient":"right","values":[-93.6936,0,228.331],"labelExpr":"datum.value==0?'0.00':toString(datum.value)","labelFlush":true,"labelOverlap":false,"tickSize":1.5,"labelPadding":0.5,"grid":false,"title":null}},
    "y2":{"datum":0},
    "color":{"condition":[{"test":"datum.n < 0","value":"#1a1aff"},{"test":"datum.n >= 50","value":"#f4f420"}],"value":"#22d822"}}},
  {"data":{"name":"days"},"mark":{"type":"rule","color":"#333333","strokeDash":[3,2],"strokeWidth":0.8},"encoding":{"x":{"field":"i","type":"quantitative"}}},
  {"data":{"values":[{"i":1.2,"v":150,"t":"NVO (10) -78.7901 0.0000 0.0000 0.0000 0.0000"},{"i":0.3,"v":30,"t":"FXCM-MT4 Agg ©2011, MetaQuotes Software Corp."}]},"mark":{"type":"text","fontSize":5.5,"color":"#222266","align":"left","baseline":"middle"},"encoding":{"x":{"field":"i","type":"quantitative"},"y":{"field":"v","type":"quantitative"},"text":{"field":"t"}}}
 ]}
]
}
